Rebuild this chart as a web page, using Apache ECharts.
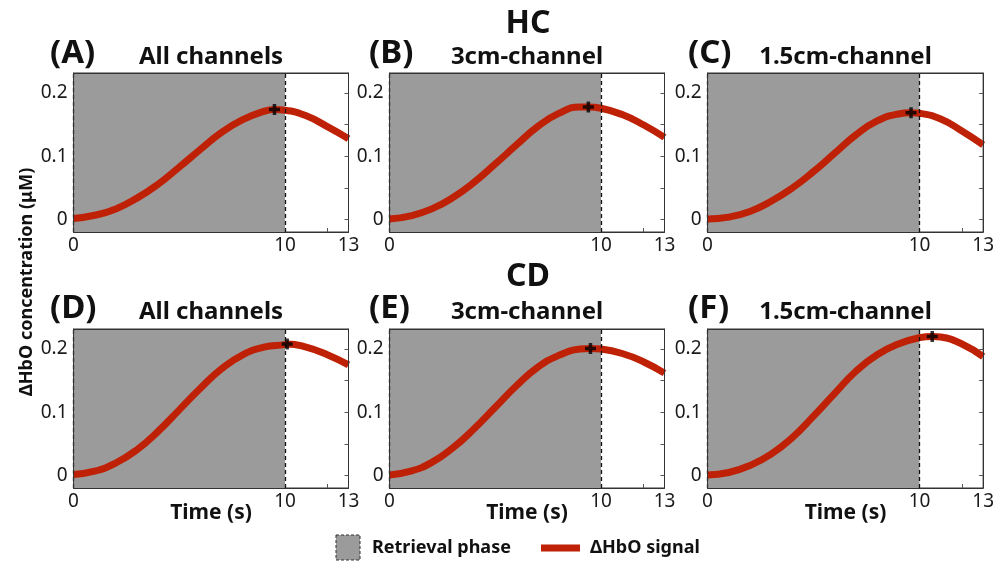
<!DOCTYPE html>
<html>
<head>
<meta charset="utf-8">
<script src="https://cdn.jsdelivr.net/npm/echarts@6/dist/echarts.min.js"></script>
<style>html,body{margin:0;padding:0;background:#fff}#c{width:997px;height:563px}</style>
</head>
<body>
<div id="c"></div>
<script>
// ---- data ----
const timeS = [0,1,2,3,4,5,6,7,8,9,10,11,12,13];
const hcAll   = [0.002,0.007,0.017,0.034,0.056,0.083,0.111,0.138,0.158,0.171,0.173,0.164,0.147,0.128];
const hc3cm   = [0.001,0.006,0.017,0.035,0.059,0.088,0.118,0.147,0.168,0.178,0.176,0.166,0.150,0.130];
const hc15cm  = [0.001,0.004,0.013,0.029,0.050,0.076,0.105,0.134,0.156,0.167,0.168,0.159,0.140,0.118];
const cdAll   = [0.002,0.007,0.020,0.041,0.070,0.104,0.138,0.169,0.191,0.203,0.207,0.203,0.191,0.175];
const cd3cm   = [0.001,0.007,0.021,0.044,0.074,0.108,0.142,0.171,0.190,0.200,0.200,0.193,0.180,0.162];
const cd15cm  = [0.001,0.005,0.016,0.034,0.060,0.094,0.130,0.165,0.191,0.208,0.218,0.219,0.208,0.188];
// peak markers (time s, value µM), also points of each curve
const peaks = [[9.5,0.174],[9.4,0.178],[9.6,0.169],[10.1,0.208],[9.5,0.201],[10.6,0.220]];
const panelSeries = [hcAll, hc3cm, hc15cm, cdAll, cd3cm, cd15cm];
const panelLetters = ['(A)','(B)','(C)','(D)','(E)','(F)'];
const panelTitles = ['All channels','3cm-channel','1.5cm-channel','All channels','3cm-channel','1.5cm-channel'];
const groupTitles = ['HC','CD'];
const retrievalEnd = 10;
const xTickLabels = [0,10,13];
const yTickLabels = [0,0.1,0.2];
const yMinorTicks = [0,0.05,0.1,0.15,0.2];

// ---- layout ----
const cols = [{left:73.5, width:275}, {left:389.5, width:275}, {left:707.5, width:276}];
const rows = [{top:73, height:159}, {top:329, height:159}];
const letterX = [50, 369, 688];
const FONT = '"Noto Sans", "Open Sans", sans-serif';
const RED = '#BF2106';
const GRAY = '#9B9B9B';
const FRAME = '#333';
const INK = '#111';

function curveData(p) {
  const pts = timeS.map((t,i)=>[t, panelSeries[p][i]]);
  pts.push(peaks[p]);
  pts.sort((a,b)=>a[0]-b[0]);
  return pts;
}

const grids = [], xAxes = [], yAxes = [], series = [], texts = [];
for (let p = 0; p < 6; p++) {
  const r = Math.floor(p / 3), c = p % 3;
  grids.push({left: cols[c].left, top: rows[r].top, width: cols[c].width, height: rows[r].height,
    show: true, backgroundColor: '#fff', borderColor: FRAME, borderWidth: 1});
  const xi = xAxes.length;
  xAxes.push({type:'value', gridIndex:p, min:0, max:13, position:'bottom', z:10,
    axisLine:{show:true, onZero:false, lineStyle:{color:FRAME, width:1}},
    axisTick:{show:true, inside:true, length:4, customValues:[12], lineStyle:{color:'#555'}},
    axisLabel:{show:true, customValues:xTickLabels, margin:4, fontSize:19, color:'#1a1a1a', fontFamily:FONT},
    splitLine:{show:false}});
  xAxes.push({type:'value', gridIndex:p, min:0, max:13, position:'top', z:10,
    axisLine:{show:true, onZero:false, lineStyle:{color:FRAME, width:1}},
    axisTick:{show:false}, axisLabel:{show:false}, splitLine:{show:false}});
  const yi = yAxes.length;
  yAxes.push({type:'value', gridIndex:p, min:-0.0195, max:0.2317, position:'left', z:10,
    axisLine:{show:true, onZero:false, lineStyle:{color:FRAME, width:1}},
    axisTick:{show:false},
    axisLabel:{show:true, customValues:yTickLabels, margin:6, fontSize:19, color:'#1a1a1a', fontFamily:FONT,
      formatter: v => (v === 0 ? '0' : String(Math.round(v*10)/10))},
    splitLine:{show:false}});
  yAxes.push({type:'value', gridIndex:p, min:-0.0195, max:0.2317, position:'right', z:10,
    axisLine:{show:true, onZero:false, lineStyle:{color:FRAME, width:1}},
    axisTick:{show:true, inside:true, length:4, customValues:yMinorTicks, lineStyle:{color:'#555'}},
    axisLabel:{show:false}, splitLine:{show:false}});
  series.push({type:'line', xAxisIndex:xi, yAxisIndex:yi, smooth:0.5,
    showSymbol:false, z:3,
    lineStyle:{color:RED, width:7}, itemStyle:{color:RED},
    data: curveData(p),
    markArea:{silent:true, z:1, itemStyle:{color:GRAY, opacity:1}, data:[[{xAxis:0},{xAxis:retrievalEnd}]]},
    markLine:{silent:true, symbol:'none', z:4, label:{show:false},
      lineStyle:{color:'#111', type:[4,3], width:1.3},
      data:[{xAxis:0},{xAxis:retrievalEnd}]}
  });
  series.push({type:'scatter', xAxisIndex:xi, yAxisIndex:yi, z:6,
    symbol:'path://M3.4,0H6.6V3.4H10V6.6H6.6V10H3.4V6.6H0V3.4H3.4Z', symbolSize:11,
    itemStyle:{color:'#000'}, data:[peaks[p]]});
  const cx = cols[c].left + cols[c].width/2;
  texts.push({type:'text', x: cx, y: r === 0 ? 57 : 312,
    style:{text: panelTitles[p], fontSize:24, fontWeight:'bold', fill:INK, fontFamily:FONT,
      align:'center', verticalAlign:'middle'}});
  texts.push({type:'text', x: letterX[c], y: r === 0 ? 54 : 309,
    style:{text: panelLetters[p], fontSize:33, fontWeight:'bold', fill:INK, fontFamily:FONT,
      align:'left', verticalAlign:'middle'}});
}
texts.push({type:'text', x:528, y:24, style:{text: groupTitles[0], fontSize:32, fontWeight:'bold',
  fill:INK, fontFamily:FONT, align:'center', verticalAlign:'middle'}});
texts.push({type:'text', x:528, y:277, style:{text: groupTitles[1], fontSize:32, fontWeight:'bold',
  fill:INK, fontFamily:FONT, align:'center', verticalAlign:'middle'}});

const chart = echarts.init(document.getElementById('c'), null, {renderer:'canvas'});
chart.setOption({
  animation:false,
  backgroundColor:'#fff',
  grid: grids, xAxis: xAxes, yAxis: yAxes, series: series,
  graphic: [
    ...texts,
    {type:'text', x:27, y:282, rotation:Math.PI/2, origin:[0,0],
      style:{text:'ΔHbO concentration (μM)', fontSize:18, fontWeight:'bold', fill:INK,
        fontFamily:FONT, align:'center', verticalAlign:'middle'}},
    ...[0,1,2].map(c => ({type:'text', x: cols[c].left + cols[c].width/2, y: 513,
      style:{text:'Time (s)', fontSize:21, fontWeight:'bold', fill:INK, fontFamily:FONT,
        align:'center', verticalAlign:'middle'}})),
    {type:'rect', shape:{x:336, y:535, width:24, height:25},
      style:{fill:GRAY, stroke:'#333', lineWidth:1, lineDash:[3,2]}},
    {type:'text', x:372, y:548, style:{text:'Retrieval phase', fontSize:18, fontWeight:'bold',
      fill:INK, fontFamily:FONT, verticalAlign:'middle'}},
    {type:'line', shape:{x1:541, y1:548, x2:580, y2:548}, style:{stroke:RED, lineWidth:7}},
    {type:'text', x:590, y:548, style:{text:'ΔHbO signal', fontSize:18, fontWeight:'bold',
      fill:INK, fontFamily:FONT, verticalAlign:'middle'}}
  ]
});
</script>
</body>
</html>
